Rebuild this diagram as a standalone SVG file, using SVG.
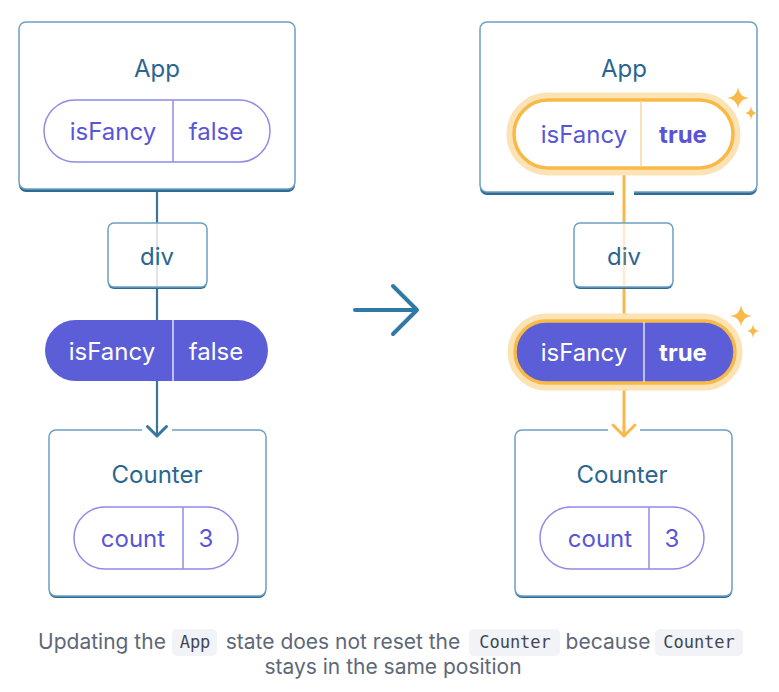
<svg xmlns="http://www.w3.org/2000/svg" width="779" height="692" viewBox="0 0 779 692">
<defs>
<style>
.box{fill:#fff;stroke:#6d9fc3;stroke-width:1.5}
.shadow{fill:#2e6b94}
.title{font-family:Inter,"Liberation Sans",sans-serif;font-size:24px;fill:#2a6690;text-anchor:middle}
.pill{fill:#fff;stroke:#8f8be6;stroke-width:1.5}
.ptxt{font-family:Inter,"Liberation Sans",sans-serif;font-size:24px;fill:#5955d4;text-anchor:middle}
.wtxt{font-family:Inter,"Liberation Sans",sans-serif;font-size:24px;fill:#fff;text-anchor:middle}
.fill{fill:#5b5ed6}
.blue{stroke:#38769f;stroke-width:2.2;fill:none}
.orange{stroke:#f8b84a;stroke-width:3;fill:none}
.glow{fill:none;stroke:#fce3b5;stroke-width:9}
.spark{fill:#f8b84a}
.cap{font-family:Inter,"Liberation Sans",sans-serif;font-size:21px;fill:#5e6879;text-anchor:middle}
.code{font-family:"DejaVu Sans Mono","Liberation Mono",monospace;font-size:17px;fill:#404756;text-anchor:middle}
.codebg{fill:#f2f3f6}
</style>
</defs>

<g id="connectors">
  <line class="blue" x1="157" y1="190" x2="157" y2="321"/>
  <line class="blue" x1="157" y1="381" x2="157" y2="436"/>
  <line class="orange" x1="624" y1="170" x2="624" y2="320"/>
  <line class="orange" x1="624" y1="384" x2="624" y2="436"/>
  <g id="transition-arrow" stroke="#2f7aa5" stroke-width="4" stroke-linecap="round" stroke-linejoin="round" fill="none">
    <line x1="355" y1="310" x2="416" y2="310"/>
    <polyline points="393,286 417,310 393,334"/>
  </g>
</g>

<!-- LEFT -->
<g id="app-left">
  <rect class="shadow" x="19" y="24" width="276" height="168" rx="7"/>
  <rect class="box" x="19" y="22" width="276" height="167" rx="7"/>
  <text class="title" x="157" y="77">App</text>
  <rect class="pill" x="44" y="100" width="226" height="62" rx="31"/>
  <line x1="173" y1="100" x2="173" y2="162" stroke="#8f8be6" stroke-width="1.5"/>
  <text class="ptxt" x="113" y="140">isFancy</text>
  <text class="ptxt" x="216" y="140">false</text>
</g>
<g id="div-left">
  <rect class="shadow" x="108" y="224" width="99" height="65" rx="6"/>
  <rect class="box" x="108" y="223" width="99" height="64" rx="6"/>
  <text class="title" x="157" y="265">div</text>
  <line x1="157" y1="224" x2="157" y2="286" stroke="#38769f" stroke-width="2" opacity="0.18"/>
</g>
<g id="isfancy-left">
  <rect class="fill" x="45" y="320" width="223" height="61" rx="30.5"/>
  <line x1="173" y1="320" x2="173" y2="381" stroke="#fff" stroke-width="1.5" opacity="0.8"/>
  <text class="wtxt" x="112" y="360">isFancy</text>
  <text class="wtxt" x="216" y="360">false</text>
</g>
<g id="counter-left">
  <rect class="shadow" x="49" y="432" width="217" height="166" rx="7"/>
  <rect class="box" x="49" y="430" width="217" height="166" rx="7"/>
  <rect x="142" y="428" width="30" height="5" fill="#fff"/>
  <line class="blue" x1="157" y1="426" x2="157" y2="436"/>
  <polyline points="147.5,426.5 157,436 166.5,426.5" fill="none" stroke="#38769f" stroke-width="3" stroke-linecap="round" stroke-linejoin="round"/>
  <text class="title" x="157" y="483">Counter</text>
  <rect class="pill" x="74" y="507" width="164" height="62" rx="31"/>
  <line x1="183" y1="507" x2="183" y2="569" stroke="#8f8be6" stroke-width="1.5"/>
  <text class="ptxt" x="133" y="547">count</text>
  <text class="ptxt" x="206" y="547">3</text>
</g>

<!-- RIGHT -->
<g id="app-right">
  <rect class="shadow" x="480" y="24" width="277" height="171" rx="7"/>
  <rect class="box" x="480" y="22" width="277" height="170" rx="7"/>
  <rect x="614" y="188" width="20" height="8" fill="#fff"/>
  <line class="orange" x1="624" y1="170" x2="624" y2="196"/>
  <text class="title" x="624" y="77">App</text>
  <rect class="glow" x="511" y="97" width="225" height="74" rx="37"/>
  <rect x="514" y="100" width="219" height="68" rx="34" fill="#fff" stroke="#f9b947" stroke-width="3.5"/>
  <line x1="641" y1="101" x2="641" y2="167" stroke="#f9d9a0" stroke-width="1.5"/>
  <text class="ptxt" x="584" y="143">isFancy</text>
  <text class="ptxt" x="683" y="143" font-weight="bold">true</text>
  <path class="spark" d="M738,87 Q739,97 749,98 Q739,99 738,109 Q737,99 727,98 Q737,97 738,87Z"/>
  <path class="spark" d="M751,106 Q751.6,112.4 757,113 Q751.6,113.6 751,120 Q750.4,113.6 745,113 Q750.4,112.4 751,106Z"/>
</g>
<g id="div-right">
  <rect class="shadow" x="574" y="224" width="99" height="65" rx="6"/>
  <rect class="box" x="574" y="223" width="99" height="64" rx="6"/>
  <text class="title" x="624" y="265">div</text>
  <line x1="624" y1="224" x2="624" y2="286" stroke="#f8b84a" stroke-width="2.5" opacity="0.25"/>
</g>
<g id="isfancy-right">
  <rect class="glow" x="512" y="318" width="226" height="68" rx="34"/>
  <rect x="515" y="321" width="220" height="62" rx="31" fill="#5b5ed6" stroke="#f9b947" stroke-width="3.5"/>
  <line x1="644" y1="322" x2="644" y2="382" stroke="#fff" stroke-width="1.5" opacity="0.8"/>
  <text class="wtxt" x="584" y="361">isFancy</text>
  <text class="wtxt" x="683" y="361" font-weight="bold">true</text>
  <path class="spark" d="M741,305 Q742,315 752,316 Q742,317 741,327 Q740,317 730,316 Q740,315 741,305Z"/>
  <path class="spark" d="M753,324 Q753.6,330.4 759,331 Q753.6,331.6 753,338 Q752.4,331.6 747,331 Q752.4,330.4 753,324Z"/>
</g>
<g id="counter-right">
  <rect class="shadow" x="515" y="432" width="217" height="166" rx="7"/>
  <rect class="box" x="515" y="430" width="217" height="166" rx="7"/>
  <rect x="608" y="428" width="32" height="5" fill="#fff"/>
  <polyline class="orange" points="613,425 624,436 635,425" stroke-linecap="round" stroke-linejoin="round"/>
  <line class="orange" x1="624" y1="426" x2="624" y2="436"/>
  <text class="title" x="622" y="483">Counter</text>
  <rect class="pill" x="540" y="507" width="164" height="62" rx="31"/>
  <line x1="649" y1="507" x2="649" y2="569" stroke="#8f8be6" stroke-width="1.5"/>
  <text class="ptxt" x="600" y="547">count</text>
  <text class="ptxt" x="672" y="547">3</text>
</g>

<g id="caption">
  <rect class="codebg" x="172" y="629" width="45" height="27" rx="5"/>
  <rect class="codebg" x="469" y="629" width="91" height="27" rx="5"/>
  <rect class="codebg" x="655" y="629" width="88" height="27" rx="5"/>
  <text class="cap" x="102" y="649">Updating the</text>
  <text class="code" x="195" y="648">App</text>
  <text class="cap" x="343" y="649">state does not reset the</text>
  <text class="code" x="515" y="648">Counter</text>
  <text class="cap" x="608" y="649">because</text>
  <text class="code" x="699" y="648">Counter</text>
  <text class="cap" x="393" y="674">stays in the same position</text>
</g>
</svg>
